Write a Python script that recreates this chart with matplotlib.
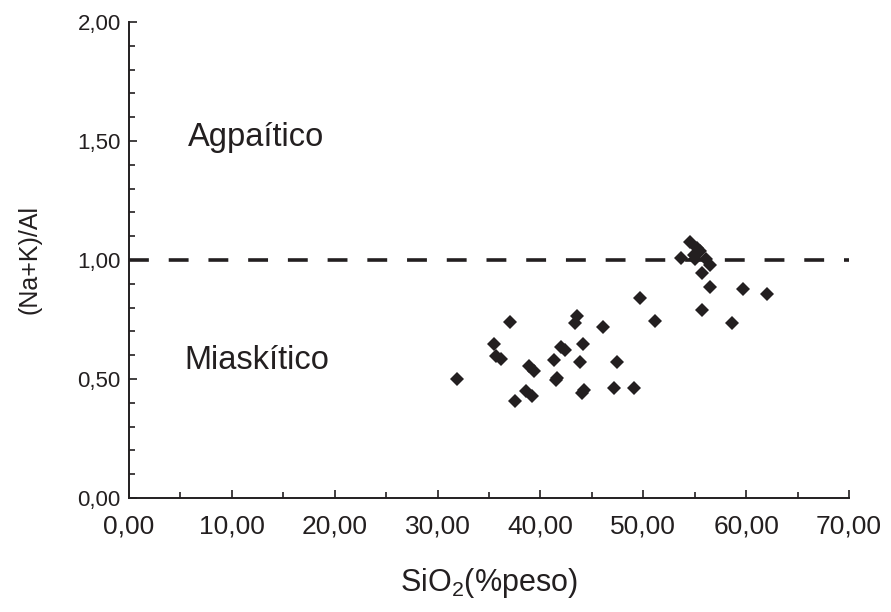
import matplotlib
matplotlib.use("Agg")
import matplotlib.pyplot as plt
from matplotlib.ticker import MultipleLocator

plt.rcParams['font.family'] = ['Liberation Sans', 'DejaVu Sans']
plt.rcParams['mathtext.fontset'] = 'custom'
plt.rcParams['mathtext.rm'] = 'Liberation Sans'

# SiO2 (% peso) vs (Na+K)/Al
sio2 = [31.9, 37.0, 35.5, 35.7, 36.2, 38.9, 39.4, 37.5, 38.6, 39.2,
        41.3, 41.6, 41.5, 43.4, 43.6, 46.05, 42.0, 42.4, 44.1, 43.8,
        47.4, 44.0, 44.2, 47.2, 49.1, 51.1, 49.7, 54.5, 55.2, 53.7,
        54.9, 55.0, 55.5, 56.1, 56.5, 55.7, 56.5, 55.7, 59.7, 62.05,
        58.65]
ratio = [0.499, 0.738, 0.646, 0.597, 0.585, 0.556, 0.535, 0.406, 0.451, 0.429,
         0.580, 0.503, 0.496, 0.737, 0.765, 0.717, 0.636, 0.622, 0.646, 0.571,
         0.571, 0.440, 0.452, 0.463, 0.463, 0.745, 0.842, 1.074, 1.052, 1.007,
         1.021, 1.003, 1.038, 1.003, 0.979, 0.944, 0.885, 0.790, 0.877, 0.857,
         0.734]

x_ticks = [0, 10, 20, 30, 40, 50, 60, 70]
x_labels = ["0,00", "10,00", "20,00", "30,00", "40,00", "50,00", "60,00", "70,00"]
y_ticks = [0.0, 0.5, 1.0, 1.5, 2.0]
y_labels = ["0,00", "0,50", "1,00", "1,50", "2,00"]
limit = 1.0

ink = "#231f20"

fig = plt.figure(figsize=(8.91, 6.12), dpi=100)
ax = fig.add_axes([129 / 891, 1 - 498 / 612, 720 / 891, 476 / 612])

ax.plot(sio2, ratio, linestyle="none", marker="D", markersize=7.2,
        color=ink, markeredgewidth=0, zorder=3)
ax.plot([0, 70], [limit, limit], color=ink, linewidth=2.6,
        dashes=(5.5, 5.5), zorder=2)

ax.text(5.74, 1.479, "Agpaítico", fontsize=23.5, color=ink, va="baseline")
ax.text(5.35, 0.542, "Miaskítico", fontsize=23.5, color=ink, va="baseline")

ax.set_xlim(0, 70)
ax.set_ylim(0, 2.0)
ax.set_xticks(x_ticks)
ax.set_xticklabels(x_labels)
ax.set_yticks(y_ticks)
ax.set_yticklabels(y_labels)
ax.xaxis.set_minor_locator(MultipleLocator(5))
ax.yaxis.set_minor_locator(MultipleLocator(0.1))

for side in ["top", "right"]:
    ax.spines[side].set_visible(False)
for side in ["left", "bottom"]:
    ax.spines[side].set_linewidth(1.4)
    ax.spines[side].set_color(ink)

ax.tick_params(axis="both", which="both", direction="in", color=ink, width=1.2)
ax.tick_params(axis="both", which="major", length=6)
ax.tick_params(axis="both", which="minor", length=4)
ax.tick_params(axis="x", which="major", labelsize=19, pad=12, labelcolor=ink)
ax.tick_params(axis="y", which="major", labelsize=16, pad=6, labelcolor=ink)

ax.set_xlabel("SiO$_\\mathregular{2}$(%peso)", fontsize=22, color=ink, labelpad=20)
ax.set_ylabel("(Na+K)/Al", fontsize=18, color=ink, labelpad=26)

fig.savefig("out.png", dpi=100)
